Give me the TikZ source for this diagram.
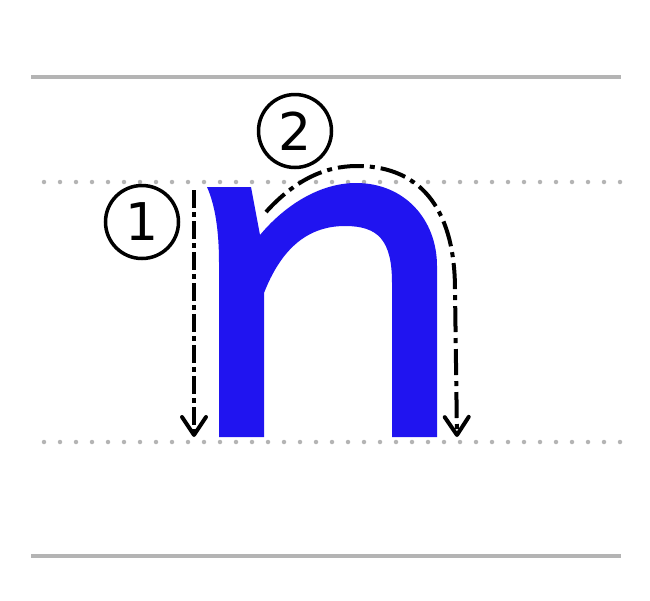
\documentclass[tikz,border=0pt]{standalone}
\usepackage{fontspec}
\setmainfont{DejaVu Sans}
\usepackage{tikz}
\usetikzlibrary{arrows.meta}
\definecolor{letterblue}{RGB}{32,20,240}
\definecolor{guidegray}{RGB}{180,180,180}

\begin{document}
\begin{tikzpicture}[x=1pt,y=-1pt,
    guide/.style={guidegray,line width=4pt},
    dotguide/.style={guidegray,line width=4.5pt,line cap=round,dash pattern=on 0pt off 16pt},
    stroke/.style={line width=4pt,dash pattern=on 18pt off 4pt on 5pt off 4pt,
        -{Straight Barb[length=18pt,width=24pt,line width=4pt,round]}},
    number/.style={circle,draw,line width=3.5pt,minimum size=73pt,inner sep=0pt,
        font=\fontsize{52}{52}\selectfont}]
\useasboundingbox (0,0) rectangle (650,600);
% guide lines
\draw[guide] (31,77) -- (621,77);
\draw[dotguide] (44,182) -- (621,182);
\draw[dotguide] (44,442) -- (621,442);
\draw[guide] (31,556) -- (621,556);
% letter
\fill[letterblue] (207,187) -- (251,187) -- (260,235)
    .. controls (285,205) and (320,183) .. (356,183)
    .. controls (405,183) and (437,220) .. (437,266)
    -- (437,437) -- (392,437) -- (392,283)
    .. controls (392,240) and (378,226) .. (345,226)
    .. controls (305,226) and (280,252) .. (264,293)
    -- (264,437) -- (219,437) -- (219,263)
    .. controls (219,230) and (215,205) .. (207,187) -- cycle;
% numbers
\node[number] (num1) at (142,222) {1};
\node[number] (num2) at (295,131) {2};
% strokes
\coordinate (s1start) at (194,190);
\coordinate (s1end) at (194,437);
\coordinate (s2start) at (266,212);
\coordinate (s2top) at (357,166);
\coordinate (s2end) at (457,437);
\draw[stroke] (s1start) -- (s1end);
\draw[stroke,dash pattern=on 26pt off 6pt on 5pt off 6pt] (s2start)
    .. controls (295,180) and (325,166) .. (s2top)
    .. controls (425,166) and (455,215) .. (455,290) -- (s2end);
\end{tikzpicture}
\end{document}
